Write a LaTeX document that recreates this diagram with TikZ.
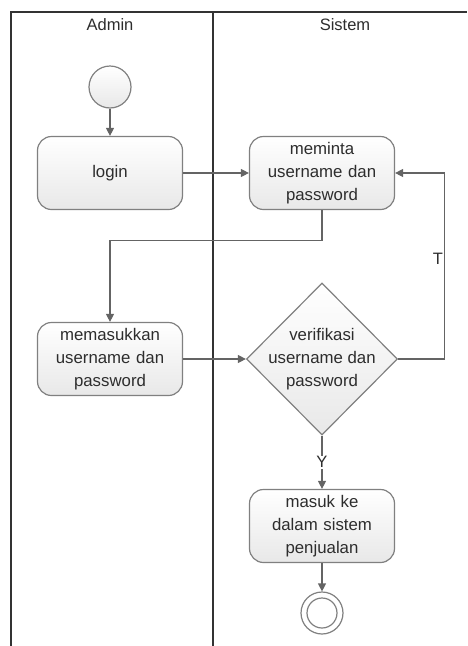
\documentclass[tikz,border=0pt]{standalone}
\usepackage{fontspec}
\setmainfont{Liberation Sans}
\usetikzlibrary{arrows.meta,shapes.geometric}

\definecolor{laneline}{RGB}{51,51,51}
\definecolor{boxline}{RGB}{128,128,128}
\definecolor{boxfill}{RGB}{232,232,232}
\definecolor{flowline}{RGB}{100,100,100}
\definecolor{txt}{RGB}{45,45,45}

\tikzset{every picture/.style={line width=0.75pt}}
\tikzset{
  lane/.style={draw=laneline, line width=1.5pt},
  lanetitle/.style={text=txt, font=\fontsize{16.5}{19}\selectfont},
  actbox/.style={draw=boxline, line width=1.2pt, rounded corners=14pt,
    top color=white, bottom color=boxfill, minimum width=145pt,
    minimum height=73pt, text width=137pt, align=center, inner sep=0pt,
    text=txt, font=\fontsize{16.8}{23}\selectfont},
  decision/.style={diamond, draw=boxline, line width=1.2pt, top color=white,
    bottom color=boxfill, minimum width=151pt, minimum height=152pt, inner sep=0pt},
  desctext/.style={align=center, text=txt, font=\fontsize{16.8}{23}\selectfont},
  startnode/.style={circle, draw=boxline, line width=1.2pt, top color=white,
    bottom color=boxfill, minimum size=42pt, inner sep=0pt},
  endnode/.style={circle, draw=boxline, line width=1.2pt, fill=white,
    minimum size=42pt, inner sep=0pt},
  flow/.style={draw=flowline, line width=1.2pt,
    -{Triangle[length=8pt,width=8pt]}},
  guard/.style={text=txt, font=\fontsize{16.5}{19}\selectfont, inner sep=1pt}
}

\begin{document}
\begin{tikzpicture}[x=1pt,y=1pt,yscale=-1,xscale=1]
	\useasboundingbox (0,0) rectangle (467,646);

	%Swimlanes
	\draw [lane] (11,646) -- (11,12) -- (467,12) ;
	\draw [lane] (213,12) -- (213,646) ;
	% Text Node
	\node [lanetitle] (admin) at (110,25) {Admin};
	% Text Node
	\node [lanetitle] (sistem) at (345,25) {Sistem};

	%Initial state
	\node [startnode] (start) at (110,87) {};
	%Rounded Rect
	\node [actbox] (login) at (110,173) {login};
	%Rounded Rect
	\node [actbox] (meminta) at (322,173) {meminta\\username dan\\password};
	%Rounded Rect
	\node [actbox] (memasukkan) at (110,359) {memasukkan\\username dan\\password};
	%Diamond
	\node [decision] (verifikasi) at (322,359) {};
	\node [desctext] (verText) at (verifikasi.center) {verifikasi\\username dan\\password};
	%Rounded Rect
	\node [actbox] (masuk) at (322,526) {masuk ke\\dalam sistem\\penjualan};
	%Final state
	\node [endnode] (finish) at (322,613) {};
	\node [circle, draw=boxline, line width=1.2pt, minimum size=30pt, inner sep=0pt] (finishIn) at (finish.center) {};

	%Flows
	\draw [flow] (start) -- (login) ;
	\draw [flow] (login) -- (meminta) ;
	\draw [flow] (meminta.south) -- ++(0,30) -| (memasukkan.north) ;
	\draw [flow] (memasukkan) -- (verifikasi) ;
	\draw [flow] (verifikasi.east) -- ++(46.5,0) |- node [guard, pos=0.27, left] (lblT) {T} (meminta.east) ;
	\draw [flow] (verifikasi.south) -- node [guard, fill=white] (lblY) {Y} (masuk.north) ;
	\draw [flow] (masuk) -- (finish) ;

\end{tikzpicture}
\end{document}
